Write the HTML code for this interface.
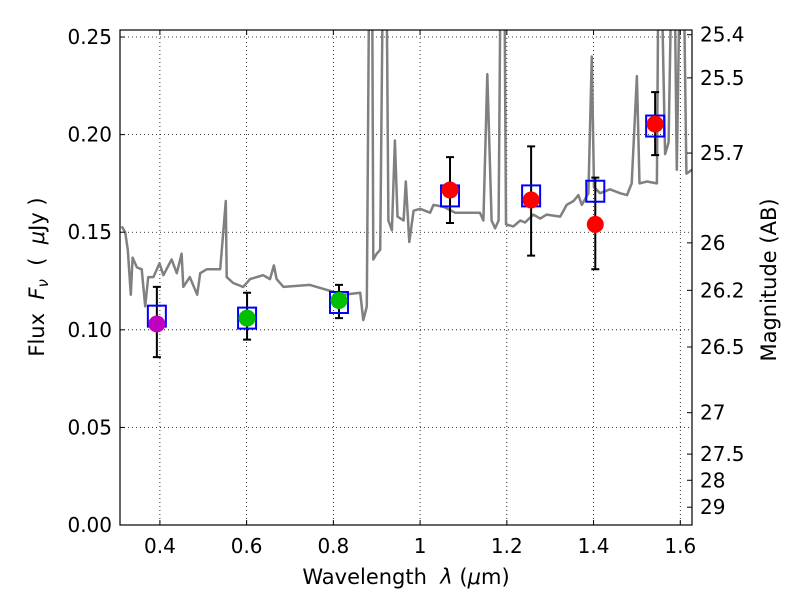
<!DOCTYPE html>
<html><head><meta charset="utf-8"><style>
body{margin:0;background:#fff}
svg text{font-family:"DejaVu Sans","Liberation Sans",sans-serif;fill:#000}
</style></head><body>
<svg id="c" width="800" height="600" viewBox="0 0 800 600" xmlns="http://www.w3.org/2000/svg">
<rect width="800" height="600" fill="#fff"/>
<defs><clipPath id="pc"><rect x="120" y="30" width="572" height="495"/></clipPath></defs>
<g id="grid"></g>
<g id="spec" clip-path="url(#pc)"></g>
<g id="marks"></g>
<rect x="120" y="30" width="572" height="495" fill="none" stroke="#000" stroke-width="1.2"/>
<g id="axes"></g>
<text x="406" y="584" font-size="21" text-anchor="middle">Wavelength&#160;&#160;<tspan font-style="italic">λ</tspan> (<tspan font-style="italic">μ</tspan>m)</text>
<text transform="translate(44,277) rotate(-90)" font-size="21" text-anchor="middle">Flux&#160;&#160;<tspan font-style="italic">F<tspan font-size="15" dy="4">ν</tspan></tspan><tspan dy="-4">&#160;&#160;(&#160;&#160;</tspan><tspan font-style="italic">μ</tspan>Jy )</text>
<text transform="translate(776,280) rotate(-90)" font-size="21" text-anchor="middle">Magnitude (AB)</text>
</svg>
<script>
const xTicks=[0.4,0.6,0.8,1.0,1.2,1.4,1.6];
const xTickLabels=["0.4","0.6","0.8","1","1.2","1.4","1.6"];
const yTicks=[0,0.05,0.10,0.15,0.20,0.25];
const yTickLabels=["0.00","0.05","0.10","0.15","0.20","0.25"];
const magTicks=[25.4,25.5,25.7,26,26.2,26.5,27,27.5,28,29];
const magTickLabels=["25.4","25.5","25.7","26","26.2","26.5","27","27.5","28","29"];
const specWave=[0.312,0.320,0.326,0.333,0.337,0.347,0.358,0.366,0.373,0.385,0.399,0.408,0.427,0.439,0.450,0.454,0.469,0.486,0.493,0.508,0.539,0.552,0.554,0.569,0.592,0.608,0.638,0.654,0.663,0.669,0.685,0.746,0.792,0.823,0.862,0.869,0.877,0.883,0.889,0.892,0.900,0.908,0.915,0.922,0.927,0.935,0.942,0.948,0.962,0.967,0.975,0.985,1.000,1.023,1.031,1.054,1.081,1.108,1.138,1.146,1.155,1.165,1.173,1.181,1.186,1.194,1.198,1.215,1.231,1.242,1.261,1.277,1.292,1.323,1.338,1.354,1.365,1.373,1.388,1.396,1.401,1.415,1.438,1.461,1.477,1.488,1.500,1.506,1.523,1.546,1.550,1.555,1.565,1.573,1.581,1.586,1.592,1.600,1.607,1.614,1.627];
const specFlux=[0.153,0.150,0.141,0.118,0.137,0.132,0.131,0.112,0.127,0.127,0.134,0.128,0.136,0.129,0.139,0.122,0.127,0.118,0.129,0.131,0.131,0.166,0.127,0.124,0.122,0.126,0.128,0.126,0.133,0.126,0.122,0.123,0.120,0.118,0.119,0.105,0.112,0.30,0.30,0.136,0.139,0.141,0.30,0.30,0.156,0.151,0.197,0.158,0.156,0.176,0.145,0.161,0.162,0.160,0.164,0.163,0.160,0.160,0.160,0.156,0.231,0.156,0.152,0.156,0.30,0.30,0.154,0.153,0.156,0.155,0.159,0.157,0.159,0.158,0.164,0.166,0.169,0.164,0.170,0.240,0.173,0.170,0.172,0.170,0.169,0.175,0.230,0.175,0.176,0.175,0.30,0.30,0.190,0.196,0.30,0.30,0.182,0.30,0.30,0.180,0.182];
const ptWave=[0.393,0.601,0.813,1.069,1.256,1.404,1.542];
const ptFlux=[0.103,0.106,0.115,0.1716,0.1665,0.154,0.2054];
const ptColors=["#bf00bf","#00bf00","#00bf00","#ff0000","#ff0000","#ff0000","#ff0000"];
const modelFlux=[0.107,0.106,0.114,0.1686,0.1686,0.171,0.2044];
const errHi=[0.122,0.119,0.123,0.1885,0.194,0.178,0.2218];
const errLo=[0.086,0.095,0.106,0.1547,0.138,0.131,0.1895];

const X0=0.308,X1=1.627,L=120,R=692,T=30,B=525,Y1=0.2536;
const sx=v=>L+(v-X0)/(X1-X0)*(R-L);
const sy=v=>B-v/Y1*(B-T);
const mag2flux=m=>Math.pow(10,-0.4*(m-23.9));
const NS="http://www.w3.org/2000/svg";
function mk(tag,attrs,parent){const e=document.createElementNS(NS,tag);for(const k in attrs)e.setAttribute(k,attrs[k]);document.getElementById(parent).appendChild(e);return e;}

xTicks.forEach((t,i)=>{const x=sx(t);
 let g=mk('line',{x1:x,x2:x,y1:T,y2:B,stroke:'#000','stroke-width':0.8,'stroke-dasharray':'1,3'},'grid');
 
 
 mk('line',{x1:x,x2:x,y1:B,y2:B-5,stroke:'#000'},'axes');
 mk('line',{x1:x,x2:x,y1:T,y2:T+5,stroke:'#000'},'axes');
 let tx=mk('text',{x:x,y:553,'font-size':20,'text-anchor':'middle'},'axes');tx.textContent=xTickLabels[i];
 
 
});
yTicks.forEach((t,i)=>{const y=sy(t);
 let g=mk('line',{x1:L,x2:R,y1:y,y2:y,stroke:'#000','stroke-width':0.8,'stroke-dasharray':'1,3'},'grid');
 
 
 mk('line',{x1:L,x2:L+5,y1:y,y2:y,stroke:'#000'},'axes');
 let tx=mk('text',{x:112,y:y+7,'font-size':20,'text-anchor':'end'},'axes');tx.textContent=yTickLabels[i];
 
 
});
magTicks.forEach((m,i)=>{const y=sy(mag2flux(m));
 mk('line',{x1:R,x2:R-5,y1:y,y2:y,stroke:'#000'},'axes');
 let tx=mk('text',{x:700,y:y+7,'font-size':20},'axes');tx.textContent=magTickLabels[i];
 
 
});
const pts=specWave.map((w,i)=>sx(w).toFixed(1)+','+sy(specFlux[i]).toFixed(1)).join(' ');
const sp=mk('polyline',{points:pts,fill:'none',stroke:'#808080','stroke-width':2.5,'stroke-linejoin':'round'},'spec');


ptWave.forEach((w,i)=>{const x=sx(w);
 const e=mk('path',{d:`M${x},${sy(errHi[i])}V${sy(errLo[i])}M${x-4},${sy(errHi[i])}h8M${x-4},${sy(errLo[i])}h8`,stroke:'#000','stroke-width':2,fill:'none'},'marks');
 
 
});
ptWave.forEach((w,i)=>{const x=sx(w),y=sy(modelFlux[i]);
 const b=mk('rect',{x:x-9,y:y-10.5,width:18,height:21,fill:'none',stroke:'#0000ff','stroke-width':2},'marks');
 
 
});
ptWave.forEach((w,i)=>{
 const c=mk('circle',{cx:sx(w),cy:sy(ptFlux[i]),r:8.5,fill:ptColors[i]},'marks');
 
 
});
</script>
</body></html>
